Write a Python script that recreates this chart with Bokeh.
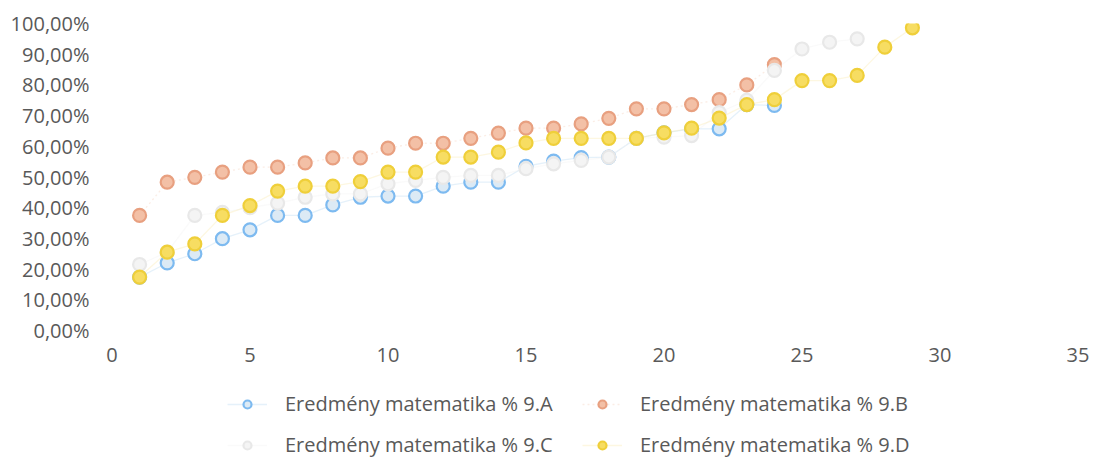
from bokeh.plotting import figure
from bokeh.models import Legend, LegendItem, FixedTicker
from bokeh.embed import file_html
from bokeh.resources import INLINE

# ---- data (percent) ----
x_a = list(range(1, 25))
res_a = [17.4, 22.0, 25.0, 29.9, 32.8, 37.5, 37.5, 40.9, 43.4, 43.8, 43.8, 47.0,
         48.3, 48.3, 53.5, 55.2, 56.3, 56.5, 62.6, 64.4, 65.7, 65.7, 73.6, 73.3]
x_b = list(range(1, 25))
res_b = [37.5, 48.3, 49.9, 51.6, 53.2, 53.2, 54.6, 56.2, 56.2, 59.4, 61.0, 61.0,
         62.6, 64.3, 65.9, 65.9, 67.3, 69.1, 72.2, 72.2, 73.6, 75.2, 80.0, 86.6]
x_c = list(range(1, 28))
res_c = [21.5, 25.5, 37.5, 38.5, 40.0, 41.5, 43.4, 44.5, 44.5, 47.8, 48.9, 49.9,
         50.5, 50.5, 52.7, 54.3, 55.4, 56.5, 62.6, 63.0, 63.5, 71.0, 75.0, 84.7,
         91.7, 93.9, 95.0]
x_d = list(range(1, 30))
res_d = [17.4, 25.5, 28.2, 37.5, 40.7, 45.4, 47.0, 47.0, 48.5, 51.6, 51.6, 56.5,
         56.5, 58.1, 61.1, 62.6, 62.6, 62.6, 62.6, 64.4, 65.9, 69.2, 73.6, 75.2,
         81.4, 81.4, 83.1, 92.3, 98.6]

series_names = ["Eredmény matematika % 9.A", "Eredmény matematika % 9.B",
                "Eredmény matematika % 9.C", "Eredmény matematika % 9.D"]
y_ticks = [0, 10, 20, 30, 40, 50, 60, 70, 80, 90, 100]
y_tick_labels = ["0,00%", "10,00%", "20,00%", "30,00%", "40,00%", "50,00%",
                 "60,00%", "70,00%", "80,00%", "90,00%", "100,00%"]
x_ticks = [0, 5, 10, 15, 20, 25, 30, 35]

FONT = "Open Sans"
TXT = "#595959"

# layout constants (canvas pixels)
W, H = 1090, 458
LEFT = 100
TOP, ZERO_Y = 23, 330          # y of 100% and of 0%
X0, PX_PER_UNIT = 111.5, 27.6  # x of 0 and pixels per x unit
y_start = -(H - ZERO_Y) * 100.0 / (ZERO_Y - TOP)
x_start = (LEFT - X0) / PX_PER_UNIT
x_end = (W - X0) / PX_PER_UNIT

p = figure(width=W, height=H, x_range=(x_start, x_end), y_range=(y_start, 100),
           output_backend="svg", toolbar_location=None,
           min_border_left=LEFT, min_border_right=0, min_border_top=TOP,
           min_border_bottom=0)
p.outline_line_color = None
p.xgrid.grid_line_color = None
p.ygrid.grid_line_color = None

for ax in (p.xaxis[0], p.yaxis[0]):
    ax.axis_line_color = None
    ax.major_tick_line_color = None
    ax.minor_tick_line_color = None
    ax.major_label_text_font = FONT
    ax.major_label_text_font_size = "20px"
    ax.major_label_text_color = TXT
xa = p.xaxis[0]
xa.ticker = FixedTicker(ticks=x_ticks)
xa.fixed_location = 0
xa.major_label_standoff = 11
ya = p.yaxis[0]
ya.ticker = FixedTicker(ticks=y_ticks)
ya.major_label_overrides = {t: l for t, l in zip(y_ticks, y_tick_labels)}
ya.major_label_standoff = 5

styles = [
    dict(line="#7DBAF0", fill="#DCEAF5", lc="#A8CFF0", dash="solid"),
    dict(line="#E8A080", fill="#F3C0A6", lc="#F2C2A8", dash="2 3"),
    dict(line="#E8E8E8", fill="#F4F4F4", lc="#F0F0F0", dash="solid"),
    dict(line="#EFCF3A", fill="#F7DD62", lc="#F8E69A", dash="solid"),
]
data = [(x_a, res_a), (x_b, res_b), (x_c, res_c), (x_d, res_d)]
items = []
for (xs, ys), st, name in zip(data, styles, series_names):
    ln = p.line(xs, ys, line_color=st["lc"], line_width=1.3, line_alpha=0.3,
                line_dash=st["dash"])
    sc = p.scatter(xs, ys, marker="circle", size=13, line_width=2.2,
                   line_color=st["line"], fill_color=st["fill"])
    items.append(LegendItem(label=name, renderers=[ln, sc]))

def make_legend(its, loc):
    lg = Legend(items=its, location=loc, orientation="vertical",
                glyph_width=40, glyph_height=20, label_height=20,
                label_standoff=18, spacing=14, padding=0, margin=0,
                border_line_alpha=0, background_fill_alpha=0,
                label_text_font=FONT, label_text_font_size="20px",
                label_text_color=TXT)
    p.add_layout(lg, "center")

make_legend([items[0], items[2]], (127, 0))
make_legend([items[1], items[3]], (482, 0))

open("out.html", "w").write(file_html(p, INLINE))
